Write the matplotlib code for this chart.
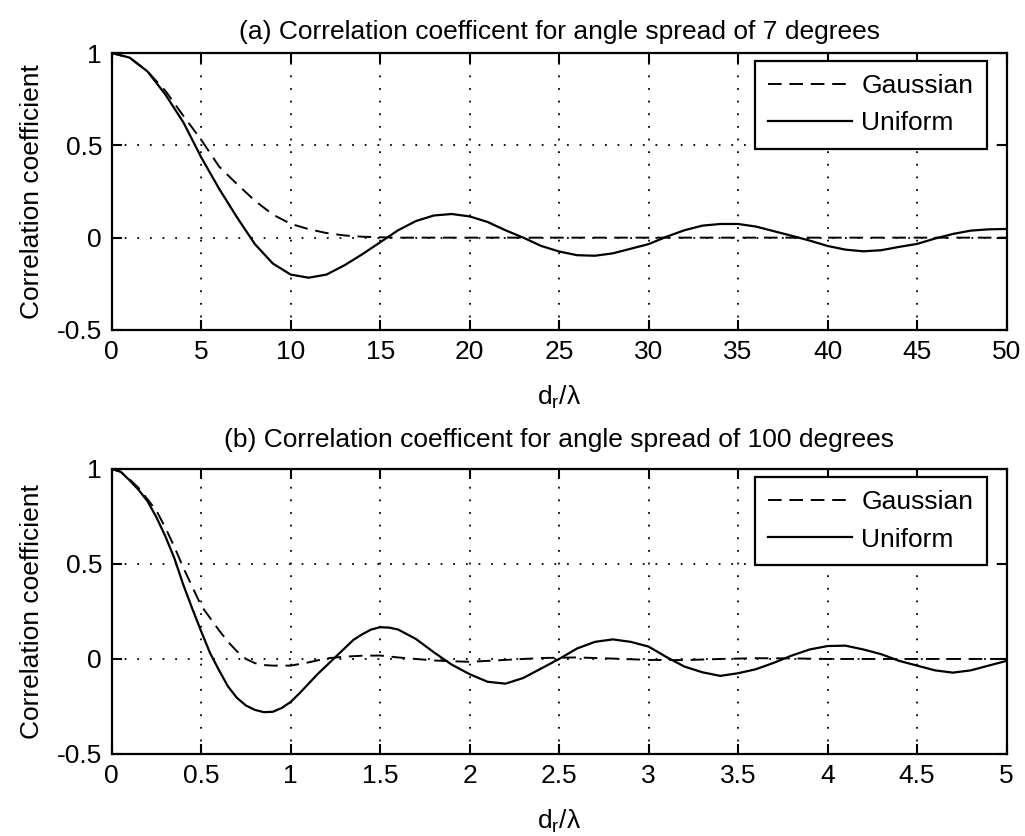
import numpy as np
import matplotlib
matplotlib.use("Agg")
import matplotlib.pyplot as plt

plt.rcParams['font.family'] = ['Liberation Sans', 'DejaVu Sans']
plt.rcParams['mathtext.fontset'] = 'custom'
plt.rcParams['mathtext.rm'] = 'Liberation Sans'

# (a) angle spread of 7 degrees
x_a_uni = [0, 1, 2, 3, 4, 5, 6, 7, 8, 9, 10, 11, 12, 13, 14, 15, 16, 17, 18, 19,
           20, 21, 22, 23, 24, 25, 26, 27, 28, 29, 30, 31, 32, 33, 34, 35, 36, 37, 38, 39,
           40, 41, 42, 43, 44, 45, 46, 47, 48, 49, 50]
y_a_uni = [1.0, 0.975, 0.9, 0.775, 0.625, 0.435, 0.265, 0.11, -0.035, -0.14, -0.20, -0.217, -0.20,
           -0.15, -0.09, -0.025, 0.04, 0.09, 0.12, 0.128, 0.115, 0.085, 0.04, 0.0, -0.045,
           -0.075, -0.095, -0.098, -0.085, -0.06, -0.035, 0.005, 0.04, 0.065, 0.074, 0.074,
           0.06, 0.035, 0.01, -0.016, -0.045, -0.065, -0.074, -0.068, -0.05, -0.034, -0.005,
           0.02, 0.038, 0.045, 0.047]
x_a_gau = [0, 1, 2, 3, 4, 5, 6, 7, 8, 9, 10, 11, 12, 13, 14, 15, 16, 20, 25, 30, 35, 40, 45, 50]
y_a_gau = [1.0, 0.975, 0.90, 0.795, 0.66, 0.53, 0.385, 0.29, 0.2, 0.125, 0.075, 0.046, 0.025,
           0.012, 0.005, 0.002, 0.0, 0.0, 0.0, 0.0, 0.0, 0.0, 0.0, 0.0]

# (b) angle spread of 100 degrees
x_b_uni = [0.0, 0.05, 0.1, 0.15, 0.2, 0.25, 0.3, 0.35, 0.4, 0.45, 0.5, 0.55, 0.6, 0.65,
           0.7, 0.75, 0.8, 0.85, 0.9, 0.95, 1.0, 1.05, 1.1, 1.15, 1.2, 1.25, 1.3, 1.35,
           1.4, 1.45, 1.5, 1.55, 1.6,
           1.7, 1.8, 1.9, 2.0, 2.1, 2.2, 2.3, 2.4, 2.5, 2.6, 2.7, 2.8, 2.9, 3.0, 3.1,
           3.2, 3.3, 3.4, 3.5, 3.6, 3.7, 3.8, 3.9, 4.0, 4.1, 4.2, 4.3, 4.4, 4.5, 4.6, 4.7,
           4.8, 4.9, 5.0]
y_b_uni = [1.0, 0.985, 0.94, 0.89, 0.83, 0.745, 0.645, 0.53, 0.39, 0.265, 0.145, 0.03, -0.06,
           -0.145, -0.205, -0.245, -0.268, -0.28, -0.278, -0.258, -0.226, -0.18, -0.13, -0.08,
           -0.035, 0.01, 0.055, 0.1, 0.13, 0.155, 0.167, 0.165, 0.155,
           0.105, 0.035, -0.03, -0.08, -0.12, -0.13, -0.1,
           -0.05, 0.0, 0.055, 0.09, 0.103, 0.09, 0.065, 0.01, -0.04, -0.07, -0.089, -0.075,
           -0.054, -0.02, 0.018, 0.05, 0.068, 0.07, 0.05, 0.025, -0.01, -0.035, -0.06, -0.072,
           -0.06, -0.035, -0.01]
x_b_gau = [0.0, 0.05, 0.1, 0.15, 0.2, 0.25, 0.3, 0.35, 0.4, 0.45, 0.5, 0.55, 0.6, 0.65,
           0.7, 0.75, 0.8, 0.85, 0.9, 1.0, 1.1, 1.2, 1.3, 1.4, 1.5,
           1.6, 1.7, 1.8, 1.9, 2.0, 2.2, 2.4, 2.6, 2.8, 3.0, 3.2, 3.4, 3.6, 3.8, 4.0, 4.5, 5.0]
y_b_gau = [1.0, 0.985, 0.945, 0.9, 0.84, 0.78, 0.69, 0.59, 0.48, 0.38, 0.28, 0.215, 0.15,
           0.09, 0.04, 0.0, -0.022, -0.032, -0.035, -0.035, -0.018,
           0.003, 0.012, 0.017, 0.018, 0.008, 0.0, -0.008, -0.012, -0.015, -0.005, 0.005,
           0.008, 0.002, -0.005, -0.006, 0.0, 0.004, 0.003, 0.0, 0.0, 0.0]

titles = ['(a) Correlation coefficent for angle spread of 7 degrees',
          '(b) Correlation coefficent for angle spread of 100 degrees']
xticks_a = [0, 5, 10, 15, 20, 25, 30, 35, 40, 45, 50]
xticks_b = [0, 0.5, 1, 1.5, 2, 2.5, 3, 3.5, 4, 4.5, 5]
xtick_labels_b = ['0', '0.5', '1', '1.5', '2', '2.5', '3', '3.5', '4', '4.5', '5']
yticks = [-0.5, 0, 0.5, 1]
ytick_labels = ['-0.5', '0', '0.5', '1']

fs = 19
fig = plt.figure(figsize=(10.25, 8.36), dpi=100)
ax1 = fig.add_axes([0.109, 0.6053, 0.873, 0.3313])
ax2 = fig.add_axes([0.109, 0.0981, 0.873, 0.341])

panels = [
    (ax1, x_a_gau, y_a_gau, x_a_uni, y_a_uni, (0, 50), xticks_a, [str(t) for t in xticks_a], titles[0], 10),
    (ax2, x_b_gau, y_b_gau, x_b_uni, y_b_uni, (0, 5), xticks_b, xtick_labels_b, titles[1], 16),
]

for ax, xg, yg, xu, yu, xlim, xt, xtl, title, tpad in panels:
    ax.plot(xg, yg, color='black', lw=1.4, linestyle=(0, (7, 4)), label='Gaussian')
    ax.plot(xu, yu, color='black', lw=1.6, label='Uniform')
    ax.set_xlim(*xlim)
    ax.set_ylim(-0.5, 1)
    ax.set_xticks(xt)
    ax.set_xticklabels(xtl)
    ax.set_yticks(yticks)
    ax.set_yticklabels(ytick_labels)
    ax.grid(True, color='black', linestyle=(0, (1, 6)), lw=1.3)
    ax.tick_params(direction='in', length=7, width=1.5, top=True, right=True,
                   labelsize=fs, pad=7)
    for s in ax.spines.values():
        s.set_linewidth(1.6)
    ax.set_title(title, fontsize=fs, pad=tpad)
    ax.set_ylabel('Correlation coefficient', fontsize=fs, labelpad=9)
    ax.set_xlabel(r'd$_\mathregular{r}$/λ', fontsize=fs, labelpad=14)
    leg = ax.legend(loc='upper right', bbox_to_anchor=(0.9777, 0.971), borderaxespad=0,
                    fontsize=fs, fancybox=False, framealpha=1, edgecolor='black',
                    handlelength=3.2, handletextpad=0.35, labelspacing=0.5,
                    borderpad=0.5)
    leg.get_frame().set_linewidth(1.6)

fig.savefig('out.png', dpi=100)
